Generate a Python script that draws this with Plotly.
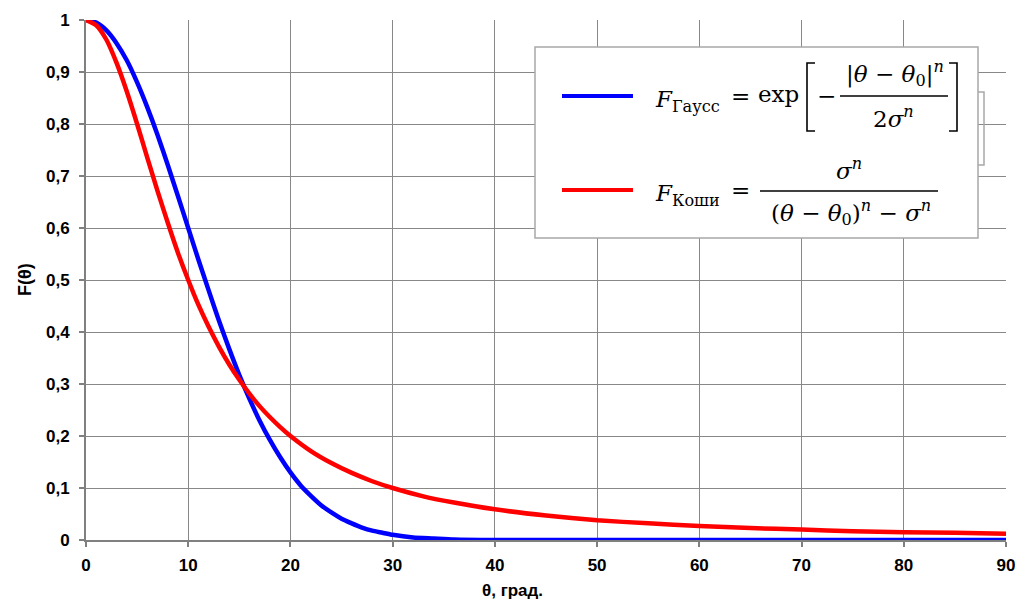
import plotly.graph_objects as go

# Values
theta_gauss = [0, 1, 2, 3, 4, 5, 6, 7, 8, 9, 10, 11, 12, 13, 14, 15, 16, 17, 18, 19, 20,
               21, 22, 23, 24, 25, 26, 27, 28, 29, 30, 32, 34, 36, 40, 50, 60, 70, 80, 90]
f_gauss = [1.0, 0.995, 0.980, 0.955, 0.922, 0.880, 0.832, 0.779, 0.721, 0.661, 0.600,
           0.539, 0.480, 0.422, 0.368, 0.317, 0.271, 0.229, 0.192, 0.159, 0.130,
           0.105, 0.085, 0.067, 0.053, 0.041, 0.032, 0.024, 0.018, 0.014, 0.010,
           0.005, 0.003, 0.001, 0.0, 0.0, 0.0, 0.0, 0.0, 0.0]

theta_cauchy = [0, 1, 2, 3, 4, 5, 6, 7, 8, 9, 10, 11, 12, 13, 14, 15, 16, 17, 18, 19, 20,
                22, 24, 26, 28, 30, 33, 36, 40, 45, 50, 55, 60, 65, 70, 75, 80, 85, 90]
f_cauchy = [1.0, 0.990, 0.962, 0.917, 0.862, 0.800, 0.735, 0.671, 0.610, 0.552, 0.500,
            0.452, 0.410, 0.372, 0.338, 0.308, 0.281, 0.257, 0.236, 0.217, 0.200,
            0.171, 0.148, 0.129, 0.113, 0.100, 0.084, 0.072, 0.059, 0.047, 0.038,
            0.032, 0.027, 0.023, 0.020, 0.017, 0.015, 0.014, 0.012]

x_ticks = [0, 10, 20, 30, 40, 50, 60, 70, 80, 90]
x_labels = ["0", "10", "20", "30", "40", "50", "60", "70", "80", "90"]
y_ticks = [0, 0.1, 0.2, 0.3, 0.4, 0.5, 0.6, 0.7, 0.8, 0.9, 1.0]
y_labels = ["0", "0,1", "0,2", "0,3", "0,4", "0,5", "0,6", "0,7", "0,8", "0,9", "1"]

W, H = 1017, 600
ML, MR, MT, MB = 86, 11, 20, 60
PW, PH = W - ML - MR, H - MT - MB


def px(x):
    return (x - ML) / PW


def py(y):
    return (H - MB - y) / PH


fig = go.Figure()
fig.add_trace(go.Scatter(x=theta_gauss, y=f_gauss, mode="lines",
                         line=dict(color="#0000FF", width=4.5, shape="spline", smoothing=0.6),
                         showlegend=False, hoverinfo="skip"))
fig.add_trace(go.Scatter(x=theta_cauchy, y=f_cauchy, mode="lines",
                         line=dict(color="#FF0000", width=4.5, shape="spline", smoothing=0.6),
                         showlegend=False, hoverinfo="skip"))

axis_font = dict(family="Liberation Sans, Arial, sans-serif", size=17, color="#000000",
                 weight="bold")
fig.update_xaxes(range=[0, 90], tickvals=x_ticks, ticktext=x_labels, showgrid=True,
                 gridcolor="#888888", gridwidth=1.3, showline=True, linecolor="#808080",
                 linewidth=2, ticks="outside", ticklen=5, tickcolor="#808080", tickwidth=1.5,
                 tickfont=axis_font, zeroline=False, automargin=False, ticklabelstandoff=4)
fig.update_yaxes(range=[0, 1], tickvals=y_ticks, ticktext=y_labels, showgrid=True,
                 gridcolor="#888888", gridwidth=1.3, showline=True, linecolor="#808080",
                 linewidth=2, ticks="outside", ticklen=5, tickcolor="#808080", tickwidth=1.5,
                 tickfont=axis_font, zeroline=False, ticklabelstandoff=6, automargin=False)

shapes = []
# shadow box behind legend
shapes.append(dict(type="rect", xref="paper", yref="paper",
                   x0=px(930), x1=px(984), y0=py(165), y1=py(92),
                   line=dict(color="#a8a8a8", width=1.5), fillcolor="rgba(0,0,0,0)"))
# legend box
shapes.append(dict(type="rect", xref="paper", yref="paper",
                   x0=px(535), x1=px(978), y0=py(238), y1=py(47),
                   line=dict(color="#a8a8a8", width=1.5), fillcolor="#FFFFFF"))
# legend lines
shapes.append(dict(type="line", xref="paper", yref="paper", x0=px(562), x1=px(633),
                   y0=py(96), y1=py(96), line=dict(color="#0000FF", width=4)))
shapes.append(dict(type="line", xref="paper", yref="paper", x0=px(562), x1=px(633),
                   y0=py(190), y1=py(190), line=dict(color="#FF0000", width=4)))
# fraction bars
shapes.append(dict(type="line", xref="paper", yref="paper", x0=px(840), x1=px(948),
                   y0=py(96), y1=py(96), line=dict(color="#000000", width=1.6)))
shapes.append(dict(type="line", xref="paper", yref="paper", x0=px(760), x1=px(938),
                   y0=py(191), y1=py(191), line=dict(color="#000000", width=1.6)))
# brackets
shapes.append(dict(type="path", xref="paper", yref="paper",
                   path=f"M {px(815)} {py(63)} L {px(807)} {py(63)} L {px(807)} {py(131)} L {px(815)} {py(131)}",
                   line=dict(color="#000000", width=1.6)))
shapes.append(dict(type="path", xref="paper", yref="paper",
                   path=f"M {px(949)} {py(63)} L {px(957)} {py(63)} L {px(957)} {py(131)} L {px(949)} {py(131)}",
                   line=dict(color="#000000", width=1.6)))

math_font = dict(family="DejaVu Serif, Liberation Serif, serif", size=23, color="#000000")


def ann(text, x, y, xanchor="center", yanchor="middle", font=math_font):
    return dict(text=text, x=px(x), y=py(y), xref="paper", yref="paper",
                xanchor=xanchor, yanchor=yanchor, showarrow=False, font=font)


title_font = dict(family="Liberation Sans, Arial, sans-serif", size=18, color="#000000",
                  weight="bold")

annotations = [
    ann("<i>F</i><sub>Гаусс</sub>", 653, 101, xanchor="left"),
    ann("=", 740, 96),
    ann("exp", 756, 94, xanchor="left"),
    ann("−", 826, 96),
    ann("|<i>θ</i> − <i>θ</i><sub>0</sub>|<sup><i>n</i></sup>", 895, 74),
    ann("2<i>σ</i><sup><i>n</i></sup>", 893, 117),
    ann("<i>F</i><sub>Коши</sub>", 653, 195, xanchor="left"),
    ann("=", 740, 190),
    ann("<i>σ</i><sup><i>n</i></sup>", 849, 169),
    ann("(<i>θ</i> − <i>θ</i><sub>0</sub>)<sup><i>n</i></sup> − <i>σ</i><sup><i>n</i></sup>", 851, 212),
    dict(text="F(θ)", x=px(25), y=py(279), xref="paper", yref="paper",
         xanchor="center", yanchor="middle", showarrow=False, textangle=-90, font=title_font),
    dict(text="θ, град.", x=px(512), y=py(590), xref="paper", yref="paper",
         xanchor="center", yanchor="middle", showarrow=False,
         font=dict(title_font, size=17)),
]

fig.update_layout(
    width=W, height=H,
    margin=dict(l=ML, r=MR, t=MT, b=MB, pad=0, autoexpand=False),
    paper_bgcolor="#FFFFFF", plot_bgcolor="#FFFFFF",
    shapes=shapes, annotations=annotations,
    font=dict(family="Liberation Sans, Arial, sans-serif"),
)

fig.write_html("out.html")
